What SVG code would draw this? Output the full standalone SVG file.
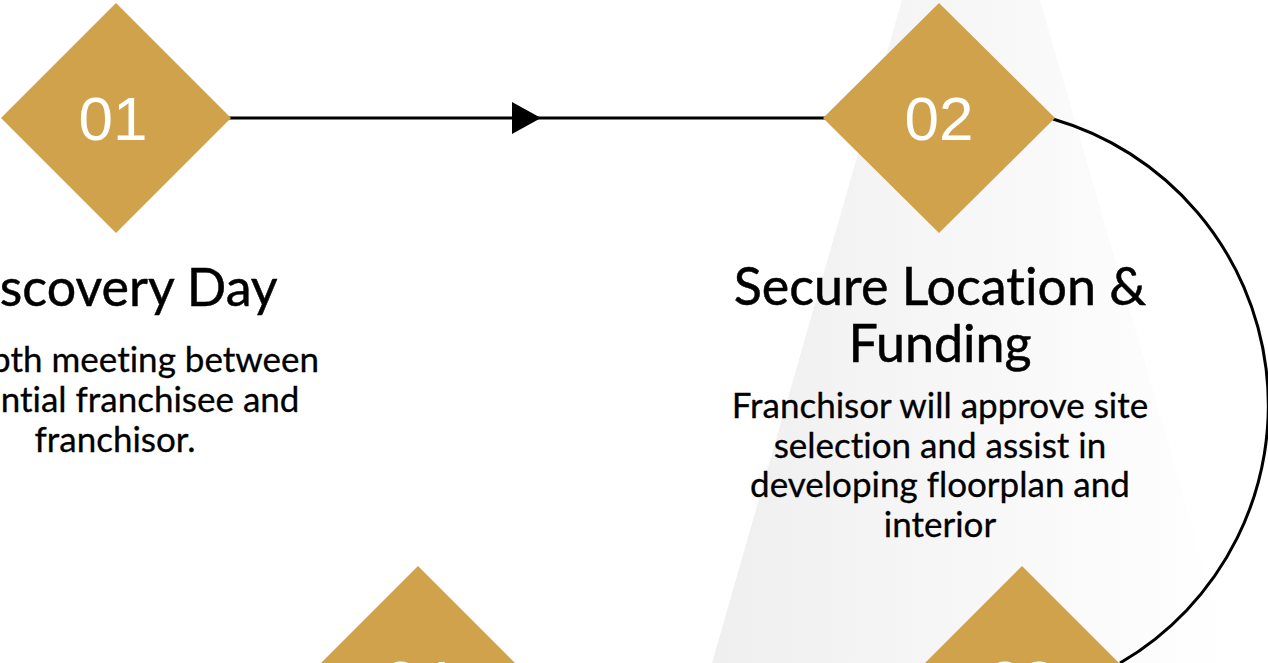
<svg xmlns="http://www.w3.org/2000/svg" width="1268" height="663" viewBox="0 0 1268 663">
  <style>
    .dia { fill: #CFA24B; }
    .num { font-family: Arial, "Liberation Sans", sans-serif; font-size: 62px; fill: #ffffff; text-anchor: middle; }
    .title { font-family: Lato, "Open Sans", sans-serif; font-size: 52px; fill: #000000; text-anchor: middle; font-variant-ligatures: none; stroke: #000000; stroke-width: 0.5; }
    .body { font-family: Lato, "Open Sans", sans-serif; font-size: 35px; fill: #000000; text-anchor: middle; font-variant-ligatures: none; stroke: #000000; stroke-width: 0.3; }
    .conn { fill: none; stroke: #000000; stroke-width: 3; }
  </style>
  <defs>
    <linearGradient id="bg" x1="712" y1="0" x2="1232" y2="0" gradientUnits="userSpaceOnUse">
      <stop offset="0" stop-color="#efefef"/>
      <stop offset="1" stop-color="#ffffff"/>
    </linearGradient>
  </defs>
  <rect width="1268" height="663" fill="#ffffff"/>
  <polygon points="902,0 1040,0 1232,663 712,663" fill="url(#bg)"/>

  <g id="connectors">
    <line class="conn" x1="229" y1="118" x2="825" y2="118"/>
    <polygon points="512,102 541,118 512,134" fill="#000000"/>
    <path class="conn" d="M 1053 119 A 298 298 0 0 1 1120 663"/>
  </g>

  <g id="step01">
    <polygon class="dia" points="116,3 231,118 116,233 1,118"/>
    <text class="num" x="113" y="140">01</text>
    <text class="title" x="113" y="306">Discovery Day</text>
    <text class="body" x="115" y="372">In-depth meeting between</text>
    <text class="body" x="115" y="412">potential franchisee and</text>
    <text class="body" x="115" y="452">franchisor.</text>
  </g>

  <g id="step02">
    <polygon class="dia" points="939,3 1055,118 939,233 823,118"/>
    <text class="num" x="939" y="140">02</text>
    <text class="title" x="940" y="305">Secure Location &amp;</text>
    <text class="title" x="940" y="362">Funding</text>
    <text class="body" x="940" y="418">Franchisor will approve site</text>
    <text class="body" x="940" y="458">selection and assist in</text>
    <text class="body" x="940" y="497">developing floorplan and</text>
    <text class="body" x="940" y="537">interior</text>
  </g>

  <g id="step03">
    <polygon class="dia" points="1022,566 1137,681 1022,796 907,681"/>
    <text class="num" x="1022" y="704">03</text>
  </g>

  <g id="step04">
    <polygon class="dia" points="418,566 533,681 418,796 303,681"/>
    <text class="num" x="418" y="704">04</text>
  </g>
</svg>
